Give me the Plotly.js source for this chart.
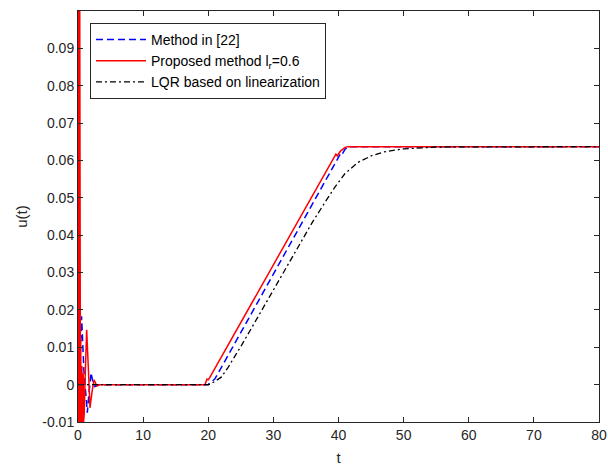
<!DOCTYPE html>
<html>
<head>
<meta charset="utf-8">
<script src="https://cdn.plot.ly/plotly-3.0.1.min.js"></script>
<style>html,body{margin:0;padding:0;background:#fff;}#chart{width:608px;height:468px;}</style>
</head>
<body>
<div id="chart"></div>
<script>
// Method in [22]
const blueT = [0, 0.15, 0.35, 0.55, 0.9, 1.2, 1.43, 1.7, 2.0, 2.3, 2.6, 3.0, 20, 20.5, 21, 21.5, 40.3, 40.5, 41, 41.5, 42, 80];
const blueU = [0, -0.012, 0.008, 0.0183, 0.004, -0.004, -0.0075, -0.002, 0.0032, 0.0006, -0.0005, 0, 0, 0.0008, 0.0015, 0.003, 0.0618, 0.0615, 0.063, 0.0636, 0.0637, 0.0637];
// Proposed method l_r=0.6
const redT = [0, 0.03, 0.06, 0.09, 0.12, 0.15, 0.18, 0.21, 0.24, 0.27, 0.3, 0.34, 0.38, 0.42, 0.46, 0.5, 0.55, 0.6, 0.65, 0.7, 0.75, 0.8, 0.85, 0.9, 0.95, 1.1, 1.33, 1.6, 1.84, 2.15, 2.46, 2.9, 3.3, 19.5, 19.8, 20.0, 20.2, 39.6, 39.8, 40.3, 41, 41.5, 80];
const redU = [0, 0.12, -0.02, 0.12, -0.02, 0.12, -0.02, 0.11, -0.02, 0.1, -0.015, 0.03, -0.015, 0.012, -0.012, 0.006, -0.011, 0.005, -0.01, 0.004, -0.009, 0.003, -0.01, 0.002, -0.008, 0.002, 0.0147, 0.004, -0.0062, -0.002, 0.0013, -0.0004, 0, 0, 0.0015, 0.0013, 0.0018, 0.0617, 0.0612, 0.0625, 0.0635, 0.0637, 0.0637];
// LQR based on linearization
const blackT = [0, 20, 20.5, 21, 22, 23, 24, 25, 26, 28, 30, 32, 34, 36, 38, 39.5, 41, 43, 45, 47, 50, 55, 80];
const blackU = [0, 0, 0.0003, 0.0008, 0.002, 0.0045, 0.0072, 0.0102, 0.0132, 0.0193, 0.0254, 0.0315, 0.0376, 0.0435, 0.049, 0.053, 0.0565, 0.0595, 0.0612, 0.0623, 0.0631, 0.0636, 0.0637];

const xTicks = [0, 10, 20, 30, 40, 50, 60, 70, 80];
const yTicks = [-0.01, 0, 0.01, 0.02, 0.03, 0.04, 0.05, 0.06, 0.07, 0.08, 0.09];
const yTickText = ["-0.01", "0", "0.01", "0.02", "0.03", "0.04", "0.05", "0.06", "0.07", "0.08", "0.09"];

const FONT = 'Liberation Sans, Arial, sans-serif';

const traces = [
  {x: blueT, y: blueU, type: 'scatter', mode: 'lines', name: 'Method in [22]',
   line: {color: '#0000ff', width: 1.5, dash: '7px,4px'}},
  {x: redT, y: redU, type: 'scatter', mode: 'lines', name: 'Proposed method l<sub>r</sub>=0.6',
   line: {color: '#ff0000', width: 1.5}},
  {x: blackT, y: blackU, type: 'scatter', mode: 'lines', name: 'LQR based on linearization',
   line: {color: '#000000', width: 1.3, dash: '6px,3px,2px,3px'}}
];

const axisCommon = {
  showgrid: false, zeroline: false, showline: true, mirror: 'ticks',
  linecolor: '#262626', linewidth: 1, ticks: 'inside', ticklen: 5, tickcolor: '#262626',
  tickfont: {family: FONT, size: 14, color: '#262626'}
};

const layout = {
  width: 608, height: 468,
  margin: {l: 78, r: 9, t: 11, b: 46},
  paper_bgcolor: '#fff', plot_bgcolor: '#fff',
  showlegend: true,
  legend: {x: 0.023, y: 0.971, xanchor: 'left', yanchor: 'top', bgcolor: '#fff',
           bordercolor: '#262626', borderwidth: 1, itemwidth: 50, tracegroupgap: 0,
           font: {family: FONT, size: 14, color: '#000'}},
  xaxis: Object.assign({}, axisCommon, {range: [0, 80], tickvals: xTicks,
    title: {text: 't', standoff: 10, font: {family: FONT, size: 15, color: '#262626'}}}),
  yaxis: Object.assign({}, axisCommon, {range: [-0.01, 0.1], tickvals: yTicks, ticktext: yTickText,
    title: {text: 'u(t)', standoff: 11, font: {family: FONT, size: 15, color: '#262626'}}})
};

Plotly.newPlot('chart', traces, layout, {displayModeBar: false, staticPlot: true});
</script>
</body>
</html>
